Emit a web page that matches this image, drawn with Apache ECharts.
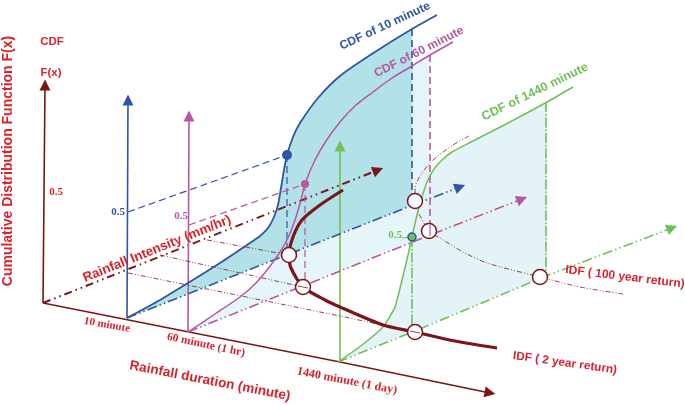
<!doctype html>
<html lang="en">
<head>
    <meta charset="UTF-8">
    <title>CDF and IDF</title>
    <script src="https://cdn.jsdelivr.net/npm/echarts@6/dist/echarts.min.js"></script>
    <style>
        html, body { margin: 0; padding: 0; background: #fff; }
        #main { width: 685px; height: 405px; }
    </style>
</head>
<body>
<div id="main"></div>
<script>
    // curves, in the picture's own x / y units
    let cdf10 = [[127,318],[160,300],[188,283],[220,263],[247,245],[260,236],[268,228],[274,217],[278,205],[281,188],[284,170],[287,155],[293,137],[300,123],[318,98],[340,76],[375,52],[412,29],[437,15]];
    let cdf60 = [[188,332],[215,314],[240,297],[255,284],[267,270],[278,255],[287,240],[295,220],[301,200],[305,184],[315,160],[326,141],[340,122],[355,106],[373,92],[392,78],[412,66],[430,55],[453,42]];
    let cdf1440 = [[338,362],[362,345],[383,327],[390,316],[395,307],[402,280],[408,255],[412,237],[417,215],[422,197],[427,182],[434,169],[442,160],[452,152],[473,141],[510,122],[547,102],[573,87]];
    let idf2 = [[343,190],[320,205],[302,220],[293,237],[289,255],[291,268],[303,287],[325,300],[340,307],[383,325],[415,332],[455,341],[497,348]];
    let idf100 = [[469,136],[453,145],[430,163],[415,188],[415,201],[429,231],[440,238],[463,252],[487,263],[540,277],[580,287],[623,294]];

    let axisF = [[43,303],[45,85]];
    let axisDuration = [[43,303],[340,362],[490,393]];
    let axisIntensity = [[43,303],[378,170]];
    let base10 = [[127,318],[413,205],[460,187]];
    let base60 = [[188,332],[430,235],[522,199]];
    let base1440 = [[338,362],[415,331],[546,276],[672,228]];
    let up10 = [[127,318],[128,100]];
    let up60 = [[188,332],[189,116]];
    let up1440 = [[340,362],[340,146]];

    let drop10 = [[412,29],[412,203]];
    let drop60 = [[430,55],[430,235]];
    let drop1440 = [[546,102],[546,276]];
    let dropMid1440 = [[412,237],[412,331]];
    let dropP10 = [[287,155],[287,255]];
    let dropP60 = [[305,184],[305,287]];
    let back10 = [[128,212],[287,155]];
    let back60 = [[189,225],[305,184]];
    let back1440 = [[402,238],[412,237]];

    let trace1 = [[207,240],[289,255]];
    let trace2 = [[160,255],[303,287]];
    let trace3 = [[128,273],[340,316],[415,332]];
    let tick1 = [[298,286],[308,288]];
    let tick2 = [[410,331],[420,333]];
    let tick3 = [[430,225],[430,236]];

    let openPoints = [[289,255],[303,287],[415,332],[415,201],[429,231],[540,277]];
    let blueDot = [[287,155]];
    let pinkDot = [[305,184]];
    let greenDot = [[412,237]];

    let fill10 = cdf10.filter(p => p[0] <= 412).concat([[412,205],[127,318]]);
    let fill60 = cdf60.filter(p => p[0] <= 430).concat([[430,235],[188,332]]);
    let fill1440 = cdf1440.filter(p => p[0] <= 547).concat([[547,276],[338,362]]);

    const RED = '#7b1518', BLUE = '#2f55a4', PINK = '#b9569f', GREEN = '#72bf58', TXT = '#d8232c';
    const DASH = [7,4], DD = [8,4,1.5,4,1.5,4], D1 = [10,3,1.5,3,1.5,3], THIN = [5,2,1,2,1,2];

    function line(points, color, width, type, smooth, z) {
        return {
            type: 'line', data: points, symbol: 'none', smooth: smooth ? 0.25 : false,
            lineStyle: {color: color, width: width, type: type || 'solid'}, z: z || 5, silent: true
        };
    }

    function head(points, color, size) {
        let a = points[points.length - 2], b = points[points.length - 1];
        let deg = Math.atan2(a[1] - b[1], b[0] - a[0]) * 180 / Math.PI - 90;
        return {
            type: 'scatter', data: [b], symbol: 'triangle', symbolSize: size || 11, symbolRotate: deg,
            itemStyle: {color: color, opacity: 1}, z: 6, silent: true
        };
    }

    function area(points, color, z) {
        return {
            type: 'custom', data: [0], z: z, silent: true,
            renderItem: function (params, api) {
                return {type: 'polygon', shape: {points: points.map(p => api.coord(p))}, style: {fill: color}};
            }
        };
    }

    function dots(points, color, size, border, z) {
        return {
            type: 'scatter', data: points, symbol: 'circle', symbolSize: size,
            itemStyle: {color: color, opacity: 1, borderColor: border || color, borderWidth: border ? 1.5 : 0}, z: z || 8, silent: true
        };
    }

    function text(str, x, y, deg, color, size, serif) {
        return {
            type: 'text', x: x, y: y, rotation: deg * Math.PI / 180, z: 20, silent: true,
            style: {
                text: str, fill: color, align: 'center', verticalAlign: 'middle',
                font: 'bold ' + size + 'px ' + (serif ? '"Liberation Serif"' : '"Liberation Sans"')
            }
        };
    }

    let myChart = echarts.init(document.getElementById('main'));
    let option = {
        animation: false,
        grid: {left: 0, right: 0, top: 0, bottom: 0},
        xAxis: {type: 'value', min: 0, max: 685, show: false},
        yAxis: {type: 'value', min: 0, max: 405, inverse: true, show: false},
        graphic: [
            text('Cumulative Distribution Function F(x)', 8, 161, 90, TXT, 14),
            text('CDF', 52, 42, 0, TXT, 11.5),
            text('F(x)', 51, 73, 0, TXT, 11.5),
            text('0.5', 56, 192, 0, TXT, 11, true),
            text('0.5', 118, 212, 0, BLUE, 11, true),
            text('0.5', 181, 216, 0, PINK, 11, true),
            text('0.5', 395, 235, 0, GREEN, 11, true),
            text('CDF of 10 minute', 385, 26, 25, BLUE, 12),
            text('CDF of 60 minute', 419, 52, 27, PINK, 12),
            text('CDF of 1440 minute', 535, 92, 26, GREEN, 12.5),
            text('Rainfall Intensity (mm/hr)', 157, 249, 22, TXT, 13.2),
            text('Rainfall duration (minute)', 210, 381, -11, TXT, 13.5),
            text('10 minute', 107, 325, -10, TXT, 11, true),
            text('60 minute (1 hr)', 206, 345, -12, TXT, 11.5, true),
            text('1440 minute (1 day)', 347, 381, -11, TXT, 12, true),
            text('IDF ( 100 year return)', 625, 277, -7, TXT, 12),
            text('IDF ( 2 year return)', 565, 363, -8, TXT, 11.8)
        ],
        series: [
            area(fill60, '#e6f5f9', 1),
            area(fill1440, '#e3f3f8', 1),
            area(fill10, '#b2e1e8', 2),

            line(axisF, RED, 1.6), head(axisF, RED, 11),
            line(axisDuration, RED, 1.6), head(axisDuration, RED, 11),
            line(axisIntensity, RED, 2, DD), head(axisIntensity, RED, 11),

            line(up10, BLUE, 1.6), head(up10, BLUE, 11),
            line(up60, PINK, 1.6), head(up60, PINK, 11),
            line(up1440, GREEN, 1.6), head(up1440, GREEN, 11),

            line(base10, BLUE, 1.6, D1), head(base10, BLUE, 11),
            line(base60, PINK, 1.6, D1), head(base60, PINK, 11),
            line(base1440, GREEN, 1.6, D1), head(base1440, GREEN, 11),

            line(drop10, BLUE, 1.6, DASH),
            line(drop60, PINK, 1.6, DASH),
            line(drop1440, GREEN, 1.6, [10,2,1.5,2]),
            line(dropMid1440, GREEN, 1.6, [10,2,1.5,2]),
            line(dropP10, BLUE, 1.2, DASH),
            line(dropP60, PINK, 1.2, DASH),
            line(back10, BLUE, 1.2, DASH),
            line(back60, PINK, 1.2, DASH),
            line(back1440, GREEN, 1.2),

            line(trace1, RED, 0.8, THIN),
            line(trace2, RED, 0.8, THIN),
            line(trace3, RED, 0.8, THIN),
            line(idf100, RED, 0.8, THIN, true),

            line(cdf10, BLUE, 1.8, null, true, 6),
            line(cdf60, PINK, 1.5, null, true, 6),
            line(cdf1440, GREEN, 1.5, null, true, 6),
            line(idf2, RED, 3.2, null, true, 7),

            dots(openPoints, '#fff', 15, RED),
            dots(blueDot, BLUE, 10),
            dots(pinkDot, PINK, 8),
            dots(greenDot, GREEN, 8, BLUE),

            line(tick1, RED, 0.8, null, false, 9),
            line(tick2, RED, 0.8, null, false, 9),
            line(tick3, PINK, 1.2, null, false, 9)
        ]
    };
    myChart.setOption(option);
</script>
</body>
</html>
